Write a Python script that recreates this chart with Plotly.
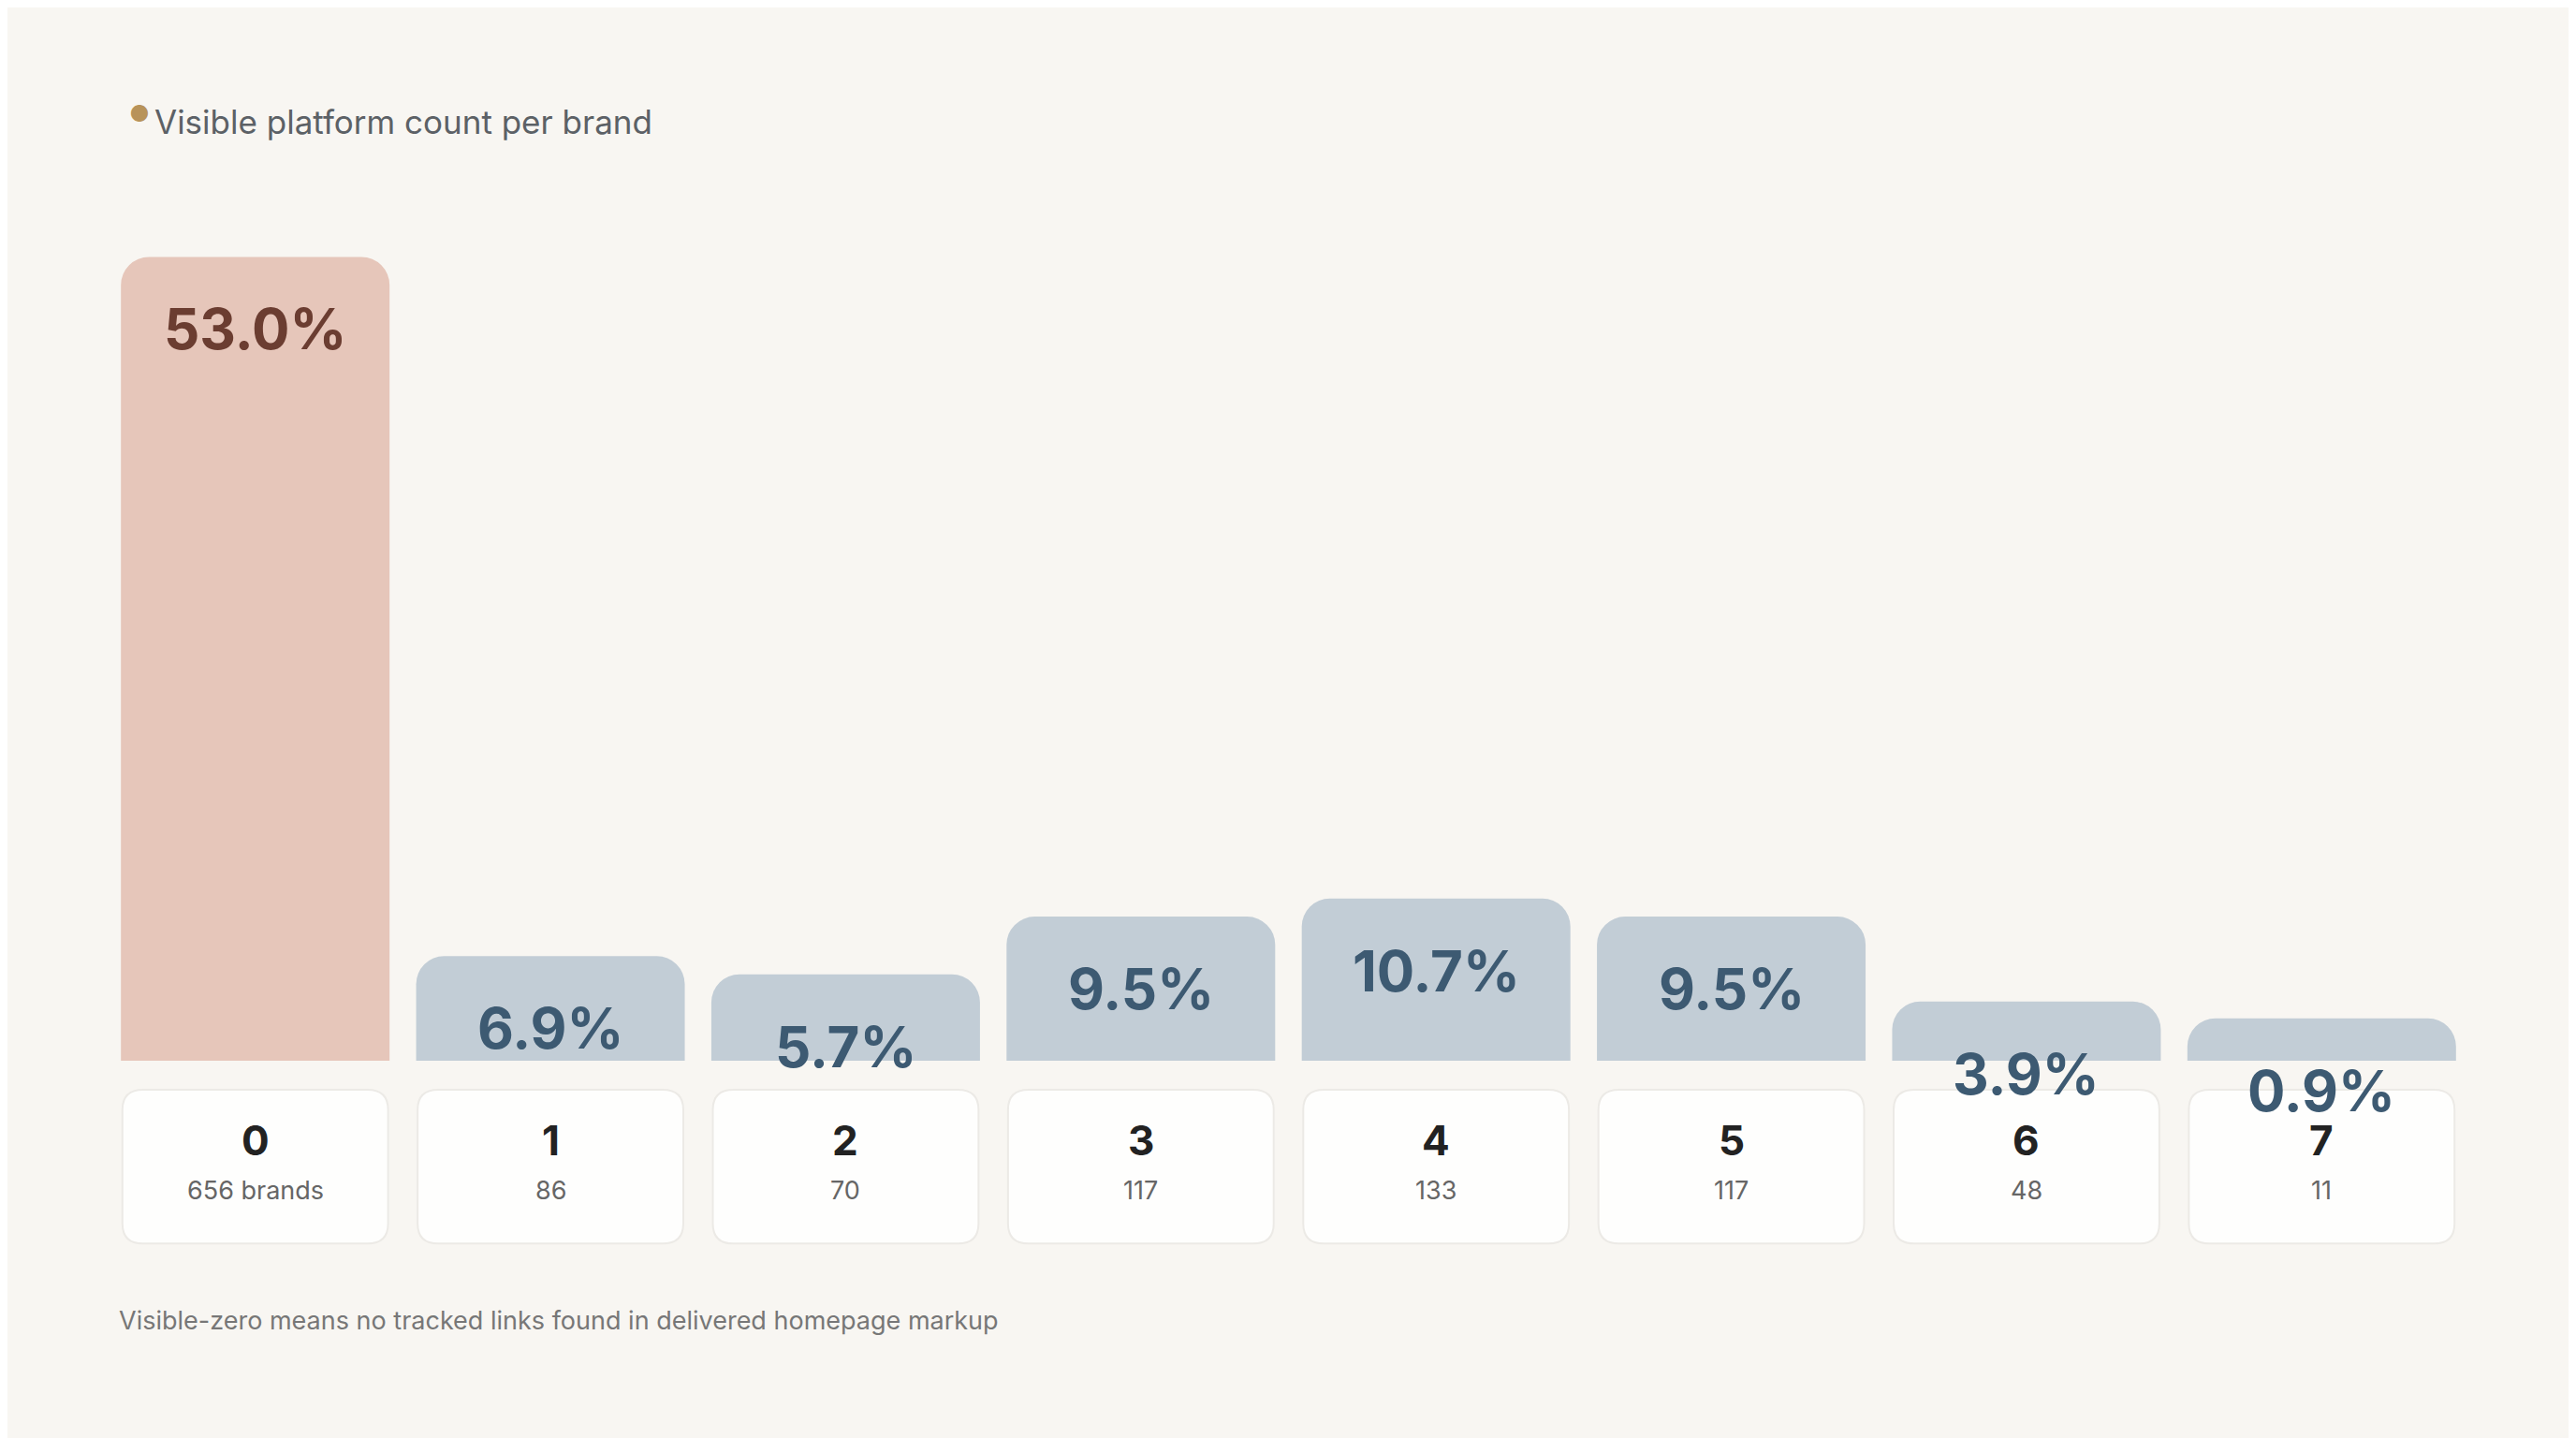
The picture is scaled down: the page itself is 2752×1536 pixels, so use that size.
import plotly.graph_objects as go

# platform count buckets
platforms = ["0", "1", "2", "3", "4", "5", "6", "7"]
brands = [656, 86, 70, 117, 133, 117, 48, 11]
share_pct = [53.0, 6.9, 5.7, 9.5, 10.7, 9.5, 3.9, 0.9]
count_labels = ["656 brands", "86", "70", "117", "133", "117", "48", "11"]

# small buckets still get a visible sliver
min_visible = 2.8
bar_h = [max(p, min_visible) for p in share_pct]
colors = ["#E6C6BA"] + ["#C2CDD6"] * 7
text_cols = ["#6B3D31"] + ["#3D5A72"] * 7


def rounded_rect(x0, x1, y0, y1, rx=0.07, ry=0.022):
    return (f"M {x0+rx},{y1} L {x1-rx},{y1} Q {x1},{y1} {x1},{y1-ry} "
            f"L {x1},{y0+ry} Q {x1},{y0} {x1-rx},{y0} L {x0+rx},{y0} "
            f"Q {x0},{y0} {x0},{y0+ry} L {x0},{y1-ry} Q {x0},{y1} {x0+rx},{y1} Z")


fig = go.Figure()
fig.add_trace(go.Bar(
    x=list(range(len(platforms))), y=bar_h, width=0.91,
    marker=dict(color=colors, cornerradius=30, line=dict(width=0)),
    hoverinfo="skip", showlegend=False,
))

# little cards under each bar
for i in range(len(platforms)):
    fig.add_shape(type="path", xref="x", yref="paper",
                  path=rounded_rect(i - 0.45, i + 0.45, -0.201, -0.032),
                  fillcolor="rgba(255,255,255,0.85)",
                  line=dict(color="#ECEAE6", width=2), layer="above")

for i, p in enumerate(share_pct):
    fig.add_annotation(x=i, y=bar_h[i], xref="x", yref="y", yshift=-77,
                       text="<b>%.1f%%</b>" % p, showarrow=False,
                       font=dict(size=60, color=text_cols[i]))
    fig.add_annotation(x=i, y=-0.117, xref="x", yref="paper", text="<b>" + platforms[i] + "</b>",
                       showarrow=False, font=dict(size=44, color="#222222"))
    fig.add_annotation(x=i, y=-0.162, xref="x", yref="paper", text=count_labels[i],
                       showarrow=False, font=dict(size=27, color="#666666"))

fig.add_annotation(x=0.0085, y=1.058, xref="paper", yref="paper", text="●", showarrow=False,
                   font=dict(size=24, color="#B8935A"))
fig.add_annotation(x=0.019, y=1.056, xref="paper", yref="paper", xanchor="left",
                   text="Visible platform count per brand", showarrow=False,
                   font=dict(size=35, color="#5C6166"))
fig.add_annotation(x=0.004, y=-0.305, xref="paper", yref="paper", xanchor="left",
                   text="Visible-zero means no tracked links found in delivered homepage markup",
                   showarrow=False, font=dict(size=27, color="#777777"))

fig.update_layout(
    width=2752, height=1536,
    margin=dict(l=107, r=122, t=153, b=411),
    paper_bgcolor="#F8F6F2", plot_bgcolor="rgba(0,0,0,0)",
    font=dict(family="Inter, Roboto, sans-serif"),
    xaxis=dict(range=[-0.5, 7.5], visible=False, fixedrange=True),
    yaxis=dict(range=[0, 60], visible=False, fixedrange=True),
)
fig.write_html("out.html")
